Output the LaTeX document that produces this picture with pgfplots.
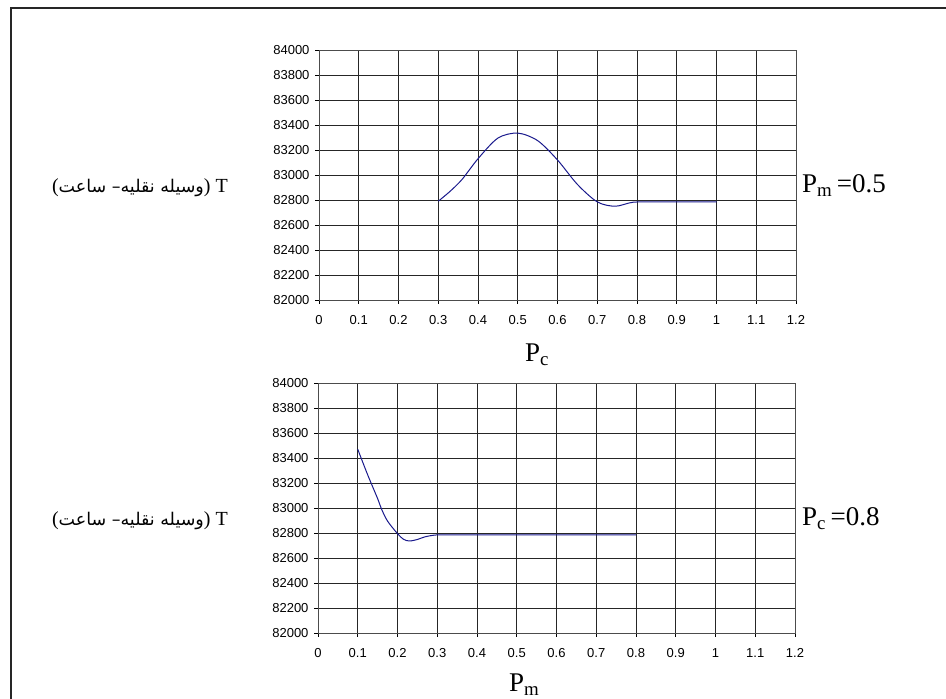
\documentclass[border=0pt]{standalone}
\usepackage{pgfplots}
\pgfplotsset{compat=1.18}
\usepackage{fontspec}
\setmainfont{Liberation Serif}
\newfontfamily\arialfont{Liberation Sans}
\newfontfamily\arabicfont[Script=Arabic]{DejaVu Sans}
\TeXXeTstate=1
\definecolor{navyline}{RGB}{25,25,140}
\pgfplotsset{
  myaxis/.style={
    scale only axis, width=477pt, height=250pt,
    xmin=0, xmax=1.2, ymin=82000, ymax=84000,
    xtick={0,0.1,0.2,0.3,0.4,0.5,0.6,0.7,0.8,0.9,1,1.1,1.2},
    ytick={82000,82200,82400,82600,82800,83000,83200,83400,83600,83800,84000},
    scaled ticks=false,
    grid=major, grid style={black!85, line width=0.8pt},
    axis line style={black!70, line width=0.8pt},
    tick align=outside, major tick length=4pt,
    tick style={black, line width=0.8pt},
    tick pos=left,
    ticklabel style={font=\arialfont\fontsize{13}{15}\selectfont},
    xticklabel style={yshift=-8pt},
    yticklabel style={xshift=-2pt},
    /pgf/number format/assume math mode=true,
    /pgf/number format/1000 sep={},
  }
}
\newcommand{\Tlabel}{({\arabicfont\fontsize{17.5}{20}\selectfont\beginR وسیله نقلیه– ساعت\endR})\ T}
\begin{document}
\begin{tikzpicture}[x=1pt,y=1pt]
\useasboundingbox (0,0) rectangle (946,699);
\draw[line width=2pt, black!85] (11,0) -- (11,691) -- (946,691);

\begin{axis}[myaxis, at={(319pt,399pt)}, anchor=south west]
\addplot[navyline, line width=1pt, smooth] coordinates {
(0.30,82790) (0.33,82870) (0.36,82965) (0.40,83130) (0.45,83295) (0.50,83335)
(0.55,83275) (0.60,83120) (0.65,82925) (0.70,82785) (0.745,82750) (0.79,82782)
(0.85,82785) (1.00,82785)};
\end{axis}

\begin{axis}[myaxis, at={(318pt,66pt)}, anchor=south west]
\addplot[navyline, line width=1pt, smooth] coordinates {
(0.10,83470) (0.125,83265) (0.15,83075) (0.16,82990) (0.175,82895) (0.20,82795)
(0.215,82750) (0.23,82736) (0.25,82748) (0.27,82770) (0.30,82785) (0.35,82785) (0.80,82785)};
\end{axis}

\node[anchor=base east, inner sep=0pt, font=\fontsize{20}{24}\selectfont] at (228,506) {\Tlabel};
\node[anchor=base east, inner sep=0pt, font=\fontsize{20}{24}\selectfont] at (228,173) {\Tlabel};

\node[anchor=base west, inner sep=0pt, font=\fontsize{27}{30}\selectfont] at (802,506) {P\textsubscript{m}\,=0.5};
\node[anchor=base west, inner sep=0pt, font=\fontsize{27}{30}\selectfont] at (802,173) {P\textsubscript{c}\,=0.8};

\node[anchor=base west, inner sep=0pt, font=\fontsize{27}{30}\selectfont] at (525,337) {P\textsubscript{c}};
\node[anchor=base west, inner sep=0pt, font=\fontsize{27}{30}\selectfont] at (509,7) {P\textsubscript{m}};
\end{tikzpicture}
\end{document}
